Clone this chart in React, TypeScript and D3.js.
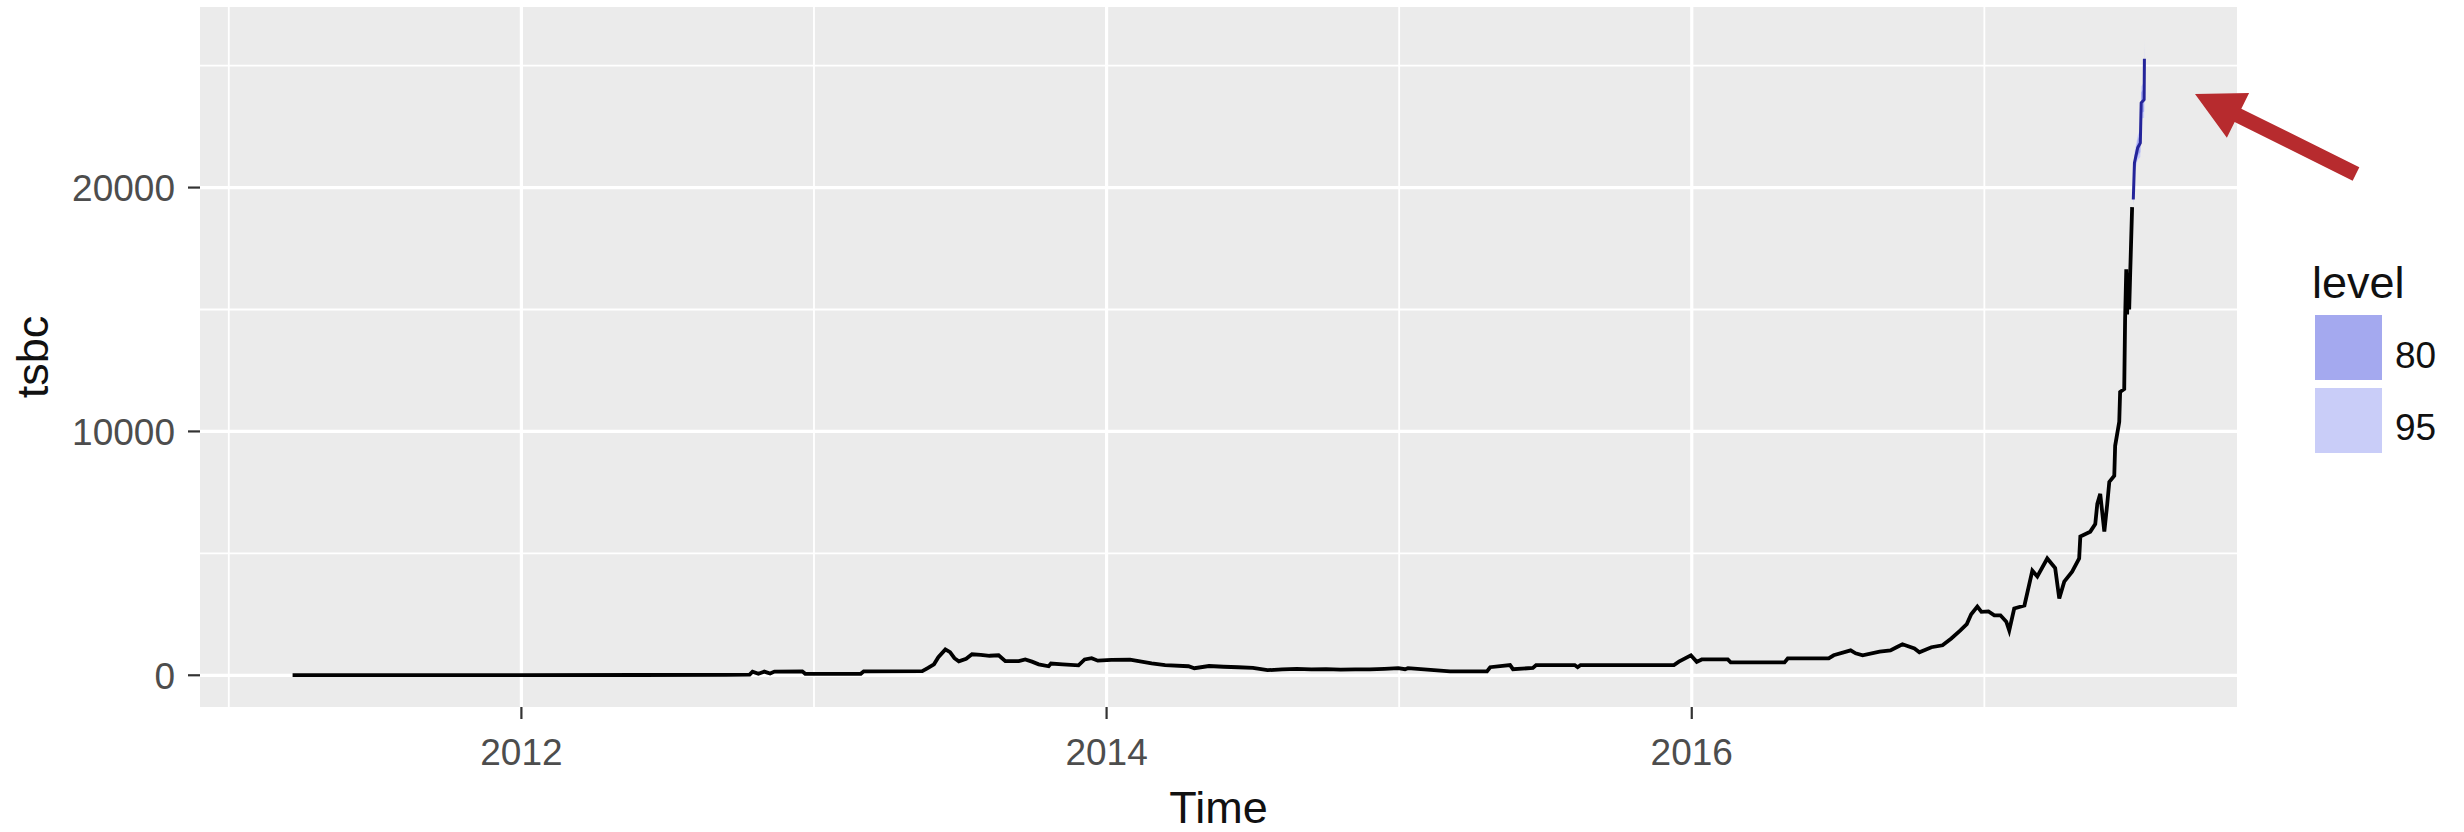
import React from 'react';
import * as d3 from 'd3';

const W = 2464;
const H = 832;
const FONT = '"Liberation Sans", Arial, Helvetica, sans-serif';

// observed series: time (years) and value
const obsTime = [
  2011.218, 2011.6, 2012.0, 2012.4, 2012.7, 2012.78, 2012.79, 2012.81, 2012.83, 2012.85,
  2012.865, 2012.96, 2012.97, 2013.16, 2013.17, 2013.37, 2013.39, 2013.41, 2013.425, 2013.449,
  2013.465, 2013.48, 2013.495, 2013.52, 2013.54, 2013.57, 2013.6, 2013.631, 2013.654, 2013.7,
  2013.722, 2013.745, 2013.768, 2013.802, 2013.81, 2013.85, 2013.904, 2013.925, 2013.949, 2013.97,
  2014.017, 2014.08, 2014.154, 2014.2, 2014.28, 2014.3, 2014.35, 2014.4, 2014.45, 2014.5,
  2014.55, 2014.6, 2014.65, 2014.7, 2014.75, 2014.8, 2014.85, 2014.9, 2014.95, 2014.997,
  2015.02, 2015.03, 2015.174, 2015.3, 2015.311, 2015.379, 2015.389, 2015.457, 2015.468, 2015.6,
  2015.61, 2015.62, 2015.939, 2015.956, 2015.997, 2016.017, 2016.034, 2016.123, 2016.133, 2016.317,
  2016.328, 2016.468, 2016.485, 2016.543, 2016.56, 2016.584, 2016.642, 2016.679, 2016.7, 2016.72,
  2016.761, 2016.778, 2016.819, 2016.857, 2016.887, 2016.918, 2016.94, 2016.955, 2016.976, 2016.99,
  2017.014, 2017.034, 2017.055, 2017.075, 2017.085, 2017.102, 2017.137, 2017.164, 2017.181, 2017.215,
  2017.242, 2017.256, 2017.273, 2017.3, 2017.324, 2017.328, 2017.362, 2017.379, 2017.386, 2017.396,
  2017.41, 2017.42, 2017.427, 2017.444, 2017.447, 2017.461, 2017.464, 2017.478, 2017.481, 2017.485,
  2017.488, 2017.491, 2017.495, 2017.498, 2017.505,
];
const obsValue = [
  5, 4, 8, 11, 13, 30, 150, 60, 150, 70,
  150, 160, 60, 60, 160, 170, 300, 450, 740, 1060,
  950, 700, 570, 680, 860, 840, 800, 820, 580, 580,
  650, 560, 450, 370, 480, 450, 410, 650, 700, 600,
  630, 640, 490, 420, 370, 290, 380, 350, 330, 300,
  210, 240, 260, 240, 250, 230, 240, 240, 260, 290,
  250, 290, 160, 160, 330, 420, 250, 300, 420, 420,
  330, 420, 420, 560, 820, 550, 650, 650, 530, 530,
  690, 690, 820, 1020, 900, 820, 970, 1020, 1150, 1270,
  1100, 940, 1150, 1230, 1510, 1840, 2100, 2500, 2820, 2600,
  2620, 2460, 2460, 2200, 1840, 2740, 2860, 4290, 4050, 4790,
  4400, 3150, 3840, 4250, 4790, 5690, 5890, 6200, 7030, 7440,
  5890, 7030, 7930, 8180, 9410, 10390, 11620, 11740, 14600, 16650,
  14800, 16500, 15000, 16300, 19200,
];

// forecast: mean and prediction intervals
const fcTime = [2017.509, 2017.513, 2017.524, 2017.533, 2017.536, 2017.546, 2017.547];
const fcMean = [19510, 21020, 21630, 21830, 23480, 23600, 25280];
const lo80 = [19310, 20740, 21300, 21450, 23050, 23120, 24750];
const hi80 = [19710, 21300, 21960, 22210, 23910, 24080, 25810];
const lo95 = [19210, 20600, 21130, 21250, 22820, 22860, 24460];
const hi95 = [19810, 21440, 22130, 22410, 24140, 24340, 26100];

const xMajor = [2012, 2014, 2016];
const xMinor = [2011, 2013, 2015, 2017];
const yMajor = [0, 10000, 20000];
const yMinor = [5000, 15000, 25000];
const levels = ['80', '95'];
const levelFill = ['#A4A9EF', '#C9CDF8'];

const panel = { left: 200, right: 2237, top: 7, bottom: 707 };

function expand([a, b]: number[]) {
  const d = (b - a) * 0.05;
  return [a - d, b + d];
}

export default function App() {
  const allT = obsTime.concat(fcTime);
  const allV = obsValue.concat(lo95, hi95);
  const x = d3.scaleLinear()
    .domain(expand(d3.extent(allT) as number[]))
    .range([panel.left, panel.right]);
  const y = d3.scaleLinear()
    .domain(expand(d3.extent(allV) as number[]))
    .range([panel.bottom, panel.top]);

  const obs = obsTime.map((t, i) => ({ t, v: obsValue[i] }));
  const fc = fcTime.map((t, i) => ({ t, m: fcMean[i], l80: lo80[i], h80: hi80[i], l95: lo95[i], h95: hi95[i] }));

  const line = d3.line<any>().x(d => x(d.t)).y(d => y(d.v));
  const fcLine = d3.line<any>().x(d => x(d.t)).y(d => y(d.m));
  const band95 = d3.area<any>().x(d => x(d.t)).y0(d => y(d.l95)).y1(d => y(d.h95));
  const band80 = d3.area<any>().x(d => x(d.t)).y0(d => y(d.l80)).y1(d => y(d.h80));

  // annotation arrow
  const tip = [2195, 94];
  const tail = [2356, 174];
  const len = Math.hypot(tail[0] - tip[0], tail[1] - tip[1]);
  const ux = (tail[0] - tip[0]) / len;
  const uy = (tail[1] - tip[1]) / len;
  const px = -uy;
  const py = ux;
  const headLen = 48;
  const headHalf = 25;
  const shaftHalf = 7.5;
  const hb = [tip[0] + ux * headLen, tip[1] + uy * headLen];
  const arrowPts = [
    tip,
    [hb[0] + px * headHalf, hb[1] + py * headHalf],
    [hb[0] + px * shaftHalf, hb[1] + py * shaftHalf],
    [tail[0] + px * shaftHalf, tail[1] + py * shaftHalf],
    [tail[0] - px * shaftHalf, tail[1] - py * shaftHalf],
    [hb[0] - px * shaftHalf, hb[1] - py * shaftHalf],
    [hb[0] - px * headHalf, hb[1] - py * headHalf],
  ].map(p => p.join(',')).join(' ');

  return (
    <svg width={W} height={H} style={{ position: 'absolute', left: 0, top: 0, display: 'block', background: '#fff' }}
      fontFamily={FONT}>
      <rect x={0} y={0} width={W} height={H} fill="#fff" />
      <rect x={panel.left} y={panel.top} width={panel.right - panel.left} height={panel.bottom - panel.top} fill="#EBEBEB" />
      <g stroke="#fff" strokeWidth={1.8}>
        {xMinor.map(t => <line key={'xm' + t} x1={x(t)} x2={x(t)} y1={panel.top} y2={panel.bottom} />)}
        {yMinor.map(v => <line key={'ym' + v} x1={panel.left} x2={panel.right} y1={y(v)} y2={y(v)} />)}
      </g>
      <g stroke="#fff" strokeWidth={3.2}>
        {xMajor.map(t => <line key={'xM' + t} x1={x(t)} x2={x(t)} y1={panel.top} y2={panel.bottom} />)}
        {yMajor.map(v => <line key={'yM' + v} x1={panel.left} x2={panel.right} y1={y(v)} y2={y(v)} />)}
      </g>
      <path d={band95(fc) || ''} fill={levelFill[1]} />
      <path d={band80(fc) || ''} fill={levelFill[0]} />
      <path d={line(obs) || ''} fill="none" stroke="#000" strokeWidth={3.8} strokeLinejoin="miter" />
      <path d={fcLine(fc) || ''} fill="none" stroke="#24249A" strokeWidth={3} strokeLinejoin="round" />

      {/* axes */}
      <g stroke="#333" strokeWidth={2.2}>
        {xMajor.map(t => <line key={'xt' + t} x1={x(t)} x2={x(t)} y1={panel.bottom} y2={panel.bottom + 12} />)}
        {yMajor.map(v => <line key={'yt' + v} x1={panel.left - 12} x2={panel.left} y1={y(v)} y2={y(v)} />)}
      </g>
      <g fill="#4D4D4D" fontSize={37}>
        {xMajor.map(t => <text key={'xl' + t} x={x(t)} y={765} textAnchor="middle">{t}</text>)}
        {yMajor.map(v => <text key={'yl' + v} x={175} y={y(v)} dy="0.36em" textAnchor="end">{v}</text>)}
      </g>
      <text x={(panel.left + panel.right) / 2} y={823} textAnchor="middle" fontSize={45} fill="#111">Time</text>
      <text transform={`translate(48,${(panel.top + panel.bottom) / 2}) rotate(-90)`} textAnchor="middle" fontSize={45} fill="#111">tsbc</text>

      {/* legend */}
      <text x={2312} y={298} fontSize={45} fill="#111">level</text>
      {levels.map((lv, i) => (
        <g key={lv}>
          <rect x={2315} y={315 + i * 73} width={67} height={65} fill={levelFill[i]} />
          <text x={2395} y={368 + i * 72} fontSize={37} fill="#111">{lv}</text>
        </g>
      ))}

      <polygon points={arrowPts} fill="#B72B2E" />
    </svg>
  );
}
